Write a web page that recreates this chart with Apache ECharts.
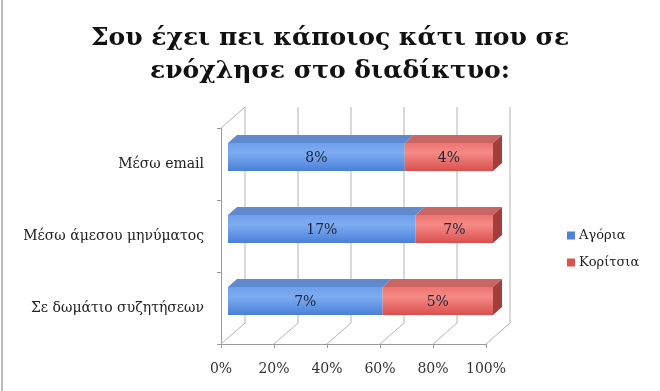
<!DOCTYPE html>
<html>
<head>
<meta charset="utf-8">
<script src="https://cdn.jsdelivr.net/npm/echarts@6/dist/echarts.min.js"></script>
<style>html,body{margin:0;padding:0;background:#fff}#c{width:660px;height:391px}</style>
</head>
<body>
<div id="c"></div>
<script>
const categories = ['Μέσω email', 'Μέσω άμεσου μηνύματος', 'Σε δωμάτιο συζητήσεων'];
const boys = [8, 17, 7];
const girls = [4, 7, 5];
const seriesNames = ['Αγόρια', 'Κορίτσια'];
const titleText = 'Σου έχει πει κάποιος κάτι που σε\nενόχλησε στο διαδίκτυο:';
const xTickValues = [0, 20, 40, 60, 80, 100];

const FONT = '"DejaVu Serif", "Liberation Serif", serif';
const DEPTH = [24, -21];
const BAR_OFF = [7, -7];
const BAR_THICK = [9, -8];

const boysData = categories.map((c, i) => {
  const t = boys[i] + girls[i];
  return [i, 0, boys[i] / t * 100, boys[i]];
});
const girlsData = categories.map((c, i) => {
  const t = boys[i] + girls[i];
  return [i, boys[i] / t * 100, 100, girls[i]];
});

function makeBarRenderer(front, top, side, isLast) {
  return function (params, api) {
    const cat = api.value(0), s = api.value(1), e = api.value(2), raw = api.value(3);
    const p0 = api.coord([s, cat]);
    const p1 = api.coord([e, cat]);
    const band = api.size([0, 1])[1];
    const h = band * 0.39;
    const x0 = p0[0] + BAR_OFF[0], x1 = p1[0] + BAR_OFF[0];
    const yc = p0[1] + BAR_OFF[1];
    const yt = yc - h / 2, yb = yc + h / 2;
    const dx = BAR_THICK[0], dy = BAR_THICK[1];
    const children = [
      { type: 'polygon', shape: { points: [[x0, yt], [x0 + dx, yt + dy], [x1 + dx, yt + dy], [x1, yt]] },
        style: { fill: top } },
      { type: 'rect', shape: { x: x0, y: yt, width: x1 - x0, height: h },
        style: { fill: front } }
    ];
    if (isLast) {
      children.push({ type: 'polygon', shape: { points: [[x1, yt], [x1 + dx, yt + dy], [x1 + dx, yb + dy], [x1, yb]] },
        style: { fill: side } });
    }
    children.push({ type: 'text', style: { text: raw + '%', x: (x0 + x1) / 2, y: yc + 1,
      textAlign: 'center', textVerticalAlign: 'middle', font: '14px ' + FONT, fill: '#1c2238' } });
    return { type: 'group', children: children };
  };
}

function renderWalls(params, api) {
  const cs = params.coordSys;
  const X0 = cs.x, X1 = cs.x + cs.width, Y0 = cs.y, Y1 = cs.y + cs.height;
  const dx = DEPTH[0], dy = DEPTH[1];
  const st = { stroke: '#b4b4b4', lineWidth: 1 };
  const children = [];
  xTickValues.forEach(v => {
    const xt = api.coord([v, 0])[0];
    children.push({ type: 'line', shape: { x1: xt + dx, y1: Y0 + dy, x2: xt + dx, y2: Y1 + dy }, style: st });
    children.push({ type: 'line', shape: { x1: xt, y1: Y1, x2: xt + dx, y2: Y1 + dy }, style: st });
  });
  children.push({ type: 'line', shape: { x1: X0, y1: Y0, x2: X0 + dx, y2: Y0 + dy }, style: st });
  return { type: 'group', silent: true, children: children };
}

const blueFront = new echarts.graphic.LinearGradient(0, 0, 0, 1, [
  { offset: 0, color: '#6f9fec' }, { offset: 0.35, color: '#7eacf2' }, { offset: 1, color: '#4a7fd9' }]);
const redFront = new echarts.graphic.LinearGradient(0, 0, 0, 1, [
  { offset: 0, color: '#ee7572' }, { offset: 0.35, color: '#f58a86' }, { offset: 1, color: '#d8504e' }]);

const chart = echarts.init(document.getElementById('c'), null, { renderer: 'canvas' });
chart.setOption({
  backgroundColor: '#ffffff',
  animation: false,
  title: {
    text: titleText, left: 'center', top: 17,
    textStyle: { fontFamily: FONT, fontSize: 25, fontWeight: 'bold', color: '#111', lineHeight: 33 }
  },
  legend: {
    orient: 'vertical', left: 562, top: 224, itemGap: 14,
    itemWidth: 8, itemHeight: 8, icon: 'rect',
    textStyle: { fontFamily: FONT, fontSize: 13, color: '#222', padding: [0, 0, 0, -1] },
    data: seriesNames
  },
  grid: { left: 221, right: 174, top: 128, bottom: 47 },
  xAxis: {
    type: 'value', min: 0, max: 100, interval: 20,
    axisLine: { show: true, lineStyle: { color: '#999' } },
    axisTick: { show: true, length: 4, inside: false, lineStyle: { color: '#999' } },
    splitLine: { show: false },
    axisLabel: { formatter: '{value}%', margin: 18, fontFamily: FONT, fontSize: 14, color: '#333' }
  },
  yAxis: {
    type: 'category', data: categories, inverse: true,
    axisLine: { show: true, lineStyle: { color: '#999' } },
    axisTick: { show: true, length: 4, lineStyle: { color: '#999' } },
    axisLabel: { margin: 17, fontFamily: FONT, fontSize: 14, color: '#222' }
  },
  graphic: [
    { type: 'line', shape: { x1: 2, y1: 0, x2: 2, y2: 391 }, style: { stroke: '#bbb', lineWidth: 2 }, silent: true }
  ],
  series: [
    { type: 'custom', name: 'walls', renderItem: renderWalls, data: [[0, 0]], silent: true, z: 1,
      encode: { x: 0, y: 1 } },
    { type: 'custom', name: seriesNames[0], color: '#4f81d6', itemStyle: { color: '#4f81d6' },
      renderItem: makeBarRenderer(blueFront, '#5f8ad0', '#3b62a8', false),
      data: boysData, encode: { x: [1, 2], y: 0 }, z: 3 },
    { type: 'custom', name: seriesNames[1], color: '#d9534f', itemStyle: { color: '#d9534f' },
      renderItem: makeBarRenderer(redFront, '#c96664', '#a33d3b', true),
      data: girlsData, encode: { x: [1, 2], y: 0 }, z: 3 }
  ]
});
</script>
</body>
</html>
